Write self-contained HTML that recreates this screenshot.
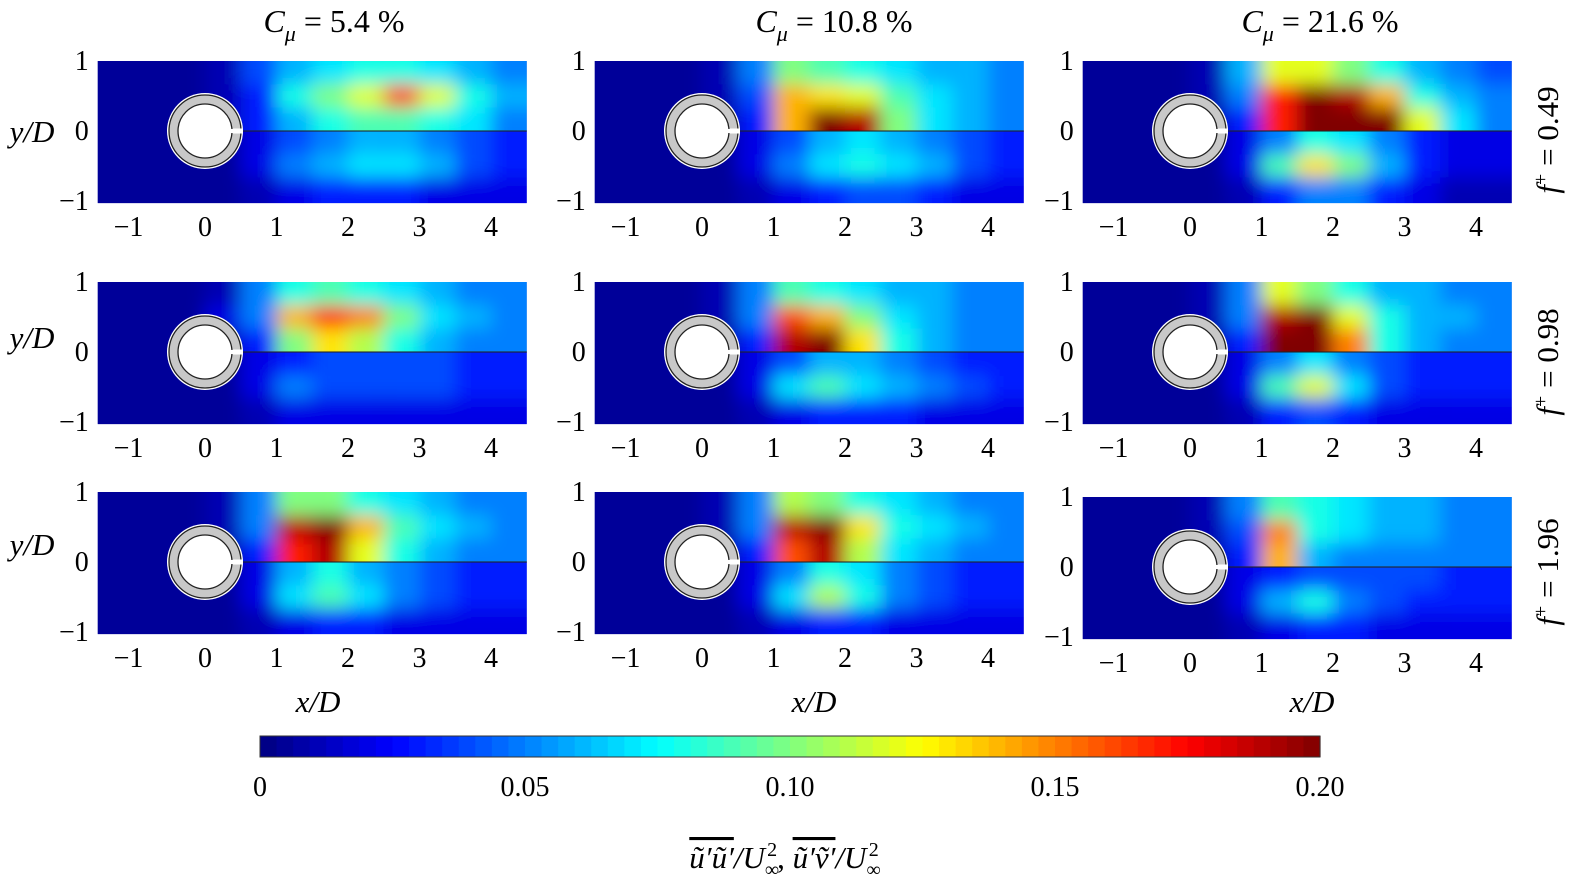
<!DOCTYPE html>
<html><head><meta charset="utf-8">
<style>
body{margin:0;background:#fff;}
svg{display:block;font-family:"Liberation Serif",serif;}
</style></head>
<body>
<svg id="fig" width="1575" height="891" viewBox="0 0 1575 891" xmlns="http://www.w3.org/2000/svg">
<defs>
<filter id="blur" x="-10%" y="-10%" width="120%" height="120%"><feGaussianBlur stdDeviation="9"/></filter>
</defs>
<g id="panels"></g>
<g font-size="32">
<text x="334" y="32" text-anchor="middle"><tspan font-style="italic">C</tspan><tspan font-style="italic" font-size="22" dy="9">μ</tspan><tspan dy="-9"> = 5.4 %</tspan></text>
<text x="834" y="32" text-anchor="middle"><tspan font-style="italic">C</tspan><tspan font-style="italic" font-size="22" dy="9">μ</tspan><tspan dy="-9"> = 10.8 %</tspan></text>
<text x="1320" y="32" text-anchor="middle"><tspan font-style="italic">C</tspan><tspan font-style="italic" font-size="22" dy="9">μ</tspan><tspan dy="-9"> = 21.6 %</tspan></text>
</g>
<g font-size="31">
<text transform="translate(1558,140) rotate(-90)" text-anchor="middle"><tspan font-style="italic">f</tspan><tspan font-size="20" dy="-11">+</tspan><tspan dy="11"> = 0.49</tspan></text>
<text transform="translate(1558,362) rotate(-90)" text-anchor="middle"><tspan font-style="italic">f</tspan><tspan font-size="20" dy="-11">+</tspan><tspan dy="11"> = 0.98</tspan></text>
<text transform="translate(1558,572) rotate(-90)" text-anchor="middle"><tspan font-style="italic">f</tspan><tspan font-size="20" dy="-11">+</tspan><tspan dy="11"> = 1.96</tspan></text>
</g>
<g font-size="31" font-style="italic">
<text x="32" y="142" text-anchor="middle">y/D</text>
<text x="32" y="348" text-anchor="middle">y/D</text>
<text x="32" y="555" text-anchor="middle">y/D</text>
<text x="318" y="712" text-anchor="middle">x/D</text>
<text x="814" y="712" text-anchor="middle">x/D</text>
<text x="1312" y="712" text-anchor="middle">x/D</text>
</g>
<g id="cbar"></g>
<text x="785" y="868" text-anchor="middle" font-size="31"><tspan font-style="italic" text-decoration="overline">ũ′ũ′</tspan><tspan font-style="italic">/U</tspan><tspan font-size="20" dy="8">∞</tspan><tspan font-size="20" dx="-12" dy="-20">2</tspan><tspan dy="12">, </tspan><tspan font-style="italic" text-decoration="overline">ũ′ṽ′</tspan><tspan font-style="italic">/U</tspan><tspan font-size="20" dy="8">∞</tspan><tspan font-size="20" dx="-12" dy="-20">2</tspan></text>
</svg>
<script>
const xCenters=[-1.25,-0.75,-0.25,0.25,0.75,1.25,1.75,2.25,2.75,3.25,3.75,4.25];
const yCenters=[0.83,0.5,0.17,-0.17,-0.5,-0.83];
const xTicks=[-1,0,1,2,3,4];
const yTicks=[1,0,-1];
const cbarTicks=[0,0.05,0.10,0.15,0.20];
const cbarTickLabels=["0","0.05","0.10","0.15","0.20"];
const vals_r1_c1=[[.005,.005,.005,.01,.04,.06,.07,.08,.08,.07,.06,.05],[.005,.005,.005,.01,.03,.08,.10,.12,.16,.12,.08,.06],[.005,.005,.005,.01,.03,.06,.08,.09,.09,.08,.07,.05],[.005,.005,.005,.005,.02,.04,.05,.06,.06,.05,.04,.03],[.005,.005,.005,.005,.02,.05,.06,.07,.07,.06,.04,.03],[.005,.005,.005,.005,.01,.02,.03,.03,.03,.02,.02,.02]];
const vals_r1_c2=[[.005,.005,.005,.01,.05,.10,.09,.08,.07,.06,.06,.05],[.005,.005,.005,.01,.04,.14,.13,.12,.09,.07,.06,.05],[.005,.005,.005,.005,.03,.14,.20,.19,.10,.07,.06,.05],[.005,.005,.005,.005,.02,.04,.06,.07,.06,.05,.04,.03],[.005,.005,.005,.005,.02,.05,.07,.08,.07,.06,.04,.03],[.005,.005,.005,.005,.01,.02,.03,.04,.04,.03,.02,.02]];
const vals_r1_c3=[[.005,.005,.005,.01,.06,.12,.12,.10,.08,.06,.05,.04],[.005,.005,.005,.01,.05,.17,.21,.19,.14,.08,.06,.05],[.005,.005,.005,.005,.03,.17,.23,.23,.20,.12,.07,.05],[.005,.005,.005,.005,.02,.05,.08,.07,.05,.03,.02,.02],[.005,.005,.005,.005,.02,.09,.13,.10,.06,.03,.02,.02],[.005,.005,.005,.005,.01,.03,.05,.05,.03,.02,.01,.01]];
const vals_r2_c1=[[.005,.005,.005,.01,.05,.08,.09,.08,.07,.06,.05,.05],[.005,.005,.005,.02,.05,.14,.17,.15,.10,.07,.06,.05],[.005,.005,.005,.01,.03,.10,.13,.11,.08,.06,.05,.05],[.005,.005,.005,.005,.02,.03,.04,.04,.04,.04,.03,.03],[.005,.005,.005,.005,.02,.05,.04,.04,.04,.04,.03,.03],[.005,.005,.005,.005,.01,.02,.02,.02,.02,.02,.02,.02]];
const vals_r2_c2=[[.005,.005,.005,.01,.05,.09,.08,.07,.06,.06,.05,.05],[.005,.005,.005,.01,.05,.16,.14,.10,.07,.06,.05,.05],[.005,.005,.005,.005,.03,.19,.21,.13,.08,.06,.05,.05],[.005,.005,.005,.005,.02,.04,.06,.06,.05,.04,.03,.03],[.005,.005,.005,.005,.02,.07,.09,.07,.06,.05,.04,.03],[.005,.005,.005,.005,.01,.02,.03,.03,.03,.02,.02,.02]];
const vals_r2_c3=[[.005,.005,.005,.01,.05,.12,.10,.08,.06,.06,.05,.05],[.005,.005,.005,.01,.05,.19,.21,.12,.08,.06,.06,.05],[.005,.005,.005,.005,.03,.20,.23,.15,.08,.06,.05,.05],[.005,.005,.005,.005,.02,.05,.07,.05,.04,.03,.03,.03],[.005,.005,.005,.005,.02,.09,.12,.07,.04,.03,.03,.03],[.005,.005,.005,.005,.01,.03,.04,.03,.02,.02,.02,.02]];
const vals_r3_c1=[[.005,.005,.005,.01,.05,.10,.10,.08,.07,.06,.05,.05],[.005,.005,.005,.01,.05,.19,.21,.14,.09,.07,.06,.05],[.005,.005,.005,.005,.03,.17,.19,.12,.08,.06,.05,.05],[.005,.005,.005,.005,.02,.06,.08,.06,.05,.04,.03,.03],[.005,.005,.005,.005,.02,.07,.09,.07,.05,.04,.03,.03],[.005,.005,.005,.005,.01,.02,.03,.03,.02,.02,.02,.02]];
const vals_r3_c2=[[.005,.005,.005,.01,.05,.11,.10,.08,.07,.06,.05,.05],[.005,.005,.005,.01,.05,.19,.21,.13,.08,.07,.06,.05],[.005,.005,.005,.005,.03,.16,.19,.11,.07,.06,.05,.05],[.005,.005,.005,.005,.02,.05,.08,.07,.05,.04,.03,.03],[.005,.005,.005,.005,.02,.07,.11,.08,.05,.04,.03,.03],[.005,.005,.005,.005,.01,.02,.03,.03,.02,.02,.02,.02]];
const vals_r3_c3=[[.005,.005,.005,.01,.05,.09,.08,.07,.06,.06,.05,.05],[.005,.005,.005,.01,.04,.15,.08,.07,.06,.06,.05,.05],[.005,.005,.005,.005,.03,.14,.06,.05,.05,.05,.05,.05],[.005,.005,.005,.005,.02,.03,.04,.04,.04,.04,.03,.03],[.005,.005,.005,.005,.02,.06,.08,.05,.04,.03,.03,.03],[.005,.005,.005,.005,.01,.02,.03,.03,.02,.02,.02,.02]];

const NS="http://www.w3.org/2000/svg";
function mk(tag,attrs,parent){const e=document.createElementNS(NS,tag);for(const k in attrs)e.setAttribute(k,attrs[k]);if(parent)parent.appendChild(e);return e;}
function jet(v){const t=Math.max(0,Math.min(1,v/0.2));const c=x=>Math.round(255*Math.max(0,Math.min(1,1.5-Math.abs(4*t-x))));return `rgb(${c(3)},${c(2)},${c(1)})`;}

const layout=[
 {v:vals_r1_c1,ox:205,oy:131},{v:vals_r1_c2,ox:702,oy:131},{v:vals_r1_c3,ox:1190,oy:131},
 {v:vals_r2_c1,ox:205,oy:352},{v:vals_r2_c2,ox:702,oy:352},{v:vals_r2_c3,ox:1190,oy:352},
 {v:vals_r3_c1,ox:205,oy:562},{v:vals_r3_c2,ox:702,oy:562},{v:vals_r3_c3,ox:1190,oy:567}];
const SX=71.5,SY=70;
const root=document.getElementById('panels');
layout.forEach((p,i)=>{
 const xs=x=>p.ox+x*SX, ys=y=>p.oy-y*SY;
 const L=xs(-1.5),R=xs(4.5),T=ys(1.0),B=ys(-1.03);
 const g=mk('g',{},root);
 
 
 [[T,p.oy,[0,1,2]],[p.oy,B,[3,4,5]]].forEach((h,hi)=>{
  const cid='clip'+i+'_'+hi;
  const cp=mk('clipPath',{id:cid},root);
  mk('rect',{x:L,y:h[0],width:R-L,height:h[1]-h[0]},cp);
  const cg=mk('g',{'clip-path':`url(#${cid})`},g);
  mk('rect',{x:L,y:h[0],width:R-L,height:h[1]-h[0],fill:jet(0.005)},cg);
  const bg=mk('g',{filter:'url(#blur)'},cg);
  h[2].forEach(ri=>{
   xCenters.forEach((xc,ci)=>{
    let x0=xs(xc-0.25),x1=xs(xc+0.25),y0=ys(yCenters[ri]+1/6),y1=ys(yCenters[ri]-1/6);
    if(ci===0)x0-=40; if(ci===xCenters.length-1)x1+=40;
    if(ri===0||ri===3)y0-=40; if(ri===2||ri===5)y1+=40;
    const r=mk('rect',{x:x0,y:y0,width:x1-x0,height:y1-y0,fill:jet(p.v[ri][ci])},bg);
    
    
   });
  });
 });
 const zl=mk('line',{x1:xs(0.5),x2:R,y1:p.oy,y2:p.oy,stroke:'#222','stroke-width':1.5,'stroke-opacity':0.7},g);
 
 
 const cyl=mk('g',{},g);
 
 
 const cx=xs(0),cy=p.oy;
 mk('circle',{cx,cy,r:38,fill:'#fff'},cyl);
 mk('circle',{cx,cy,r:36,fill:'#c8c8c8',stroke:'#222','stroke-width':1.3},cyl);
 mk('rect',{x:cx+24,y:cy-2.5,width:14,height:5,fill:'#fff'},cyl);
 mk('circle',{cx,cy,r:27,fill:'#fff',stroke:'#222','stroke-width':1.3},cyl);
 mk('rect',{x:cx+25,y:cy-2,width:13,height:4,fill:'#fff'},cyl);
 const tg=mk('g',{'font-size':28},g);
 
 
 xTicks.forEach(t=>{const e=mk('text',{x:xs(t)+(t<0?-5:0),y:B+33,'text-anchor':'middle'},tg);e.textContent=t<0?'−'+(-t):String(t);});
 yTicks.forEach(t=>{const e=mk('text',{x:L-9,y:ys(t)+9,'text-anchor':'end'},tg);e.textContent=t<0?'−'+(-t):String(t);});
});
const cb=document.getElementById('cbar');
const CL=260,CR=1320,CT=736,CB=757;
const cs=v=>CL+(v/0.2)*(CR-CL);
for(let k=0;k<64;k++){
 const v0=k*0.2/64;
 const r=mk('rect',{x:cs(v0),y:CT,width:(CR-CL)/64+0.6,height:CB-CT,fill:jet(v0+0.2/128)},cb);
 
 
}
mk('rect',{x:CL,y:CT,width:CR-CL,height:CB-CT,fill:'none',stroke:'#333','stroke-width':1},cb);
cbarTicks.forEach((t,i)=>{
 const e=mk('text',{x:cs(t),y:796,'text-anchor':'middle','font-size':28},cb);
 e.textContent=cbarTickLabels[i];
 
 
});
</script>
</body></html>
